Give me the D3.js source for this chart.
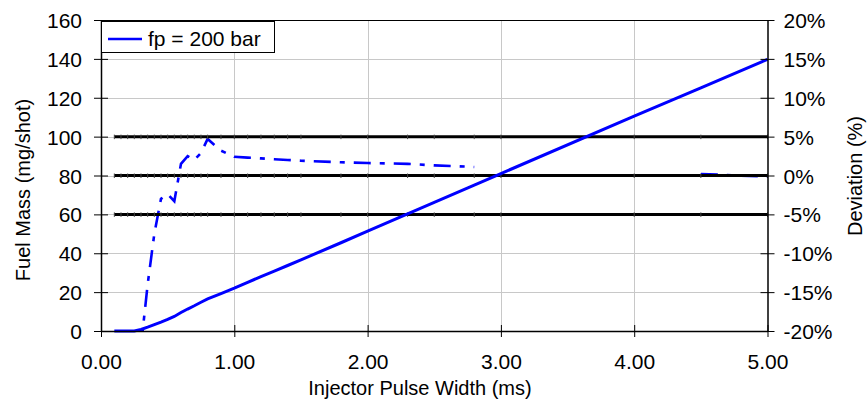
<!DOCTYPE html>
<html>
<head>
<meta charset="utf-8">
<script src="https://cdn.jsdelivr.net/npm/d3@7"></script>
<style>
  html, body { margin: 0; padding: 0; background: #fff; }
  svg { display: block; font-family: 'Liberation Sans', Arial, sans-serif; }
</style>
</head>
<body>
<div id="chart"></div>
<script>
(function () {

  // Pulse widths (ms) where the injector was measured
  const pulse_width = [0.1, 0.15, 0.2, 0.25, 0.3, 0.35, 0.4, 0.45, 0.5, 0.55, 0.6, 0.65, 0.7, 0.75, 0.8, 0.9,
    1.0, 1.1, 1.2, 1.3, 1.4, 1.5, 1.8, 2.0, 2.3, 2.5, 2.8, 3.0, 4.0, 4.5, 5.0]

  // Fuel mass (mg/shot), left axis
  const fuel_mass = [0, 0, 0, 0, 0.8, 2.0, 3.3, 4.6, 6.0, 7.5, 9.5, 11.3, 13.0, 14.8, 16.5, 19.2,
    22.0, 25.0, 28.0, 30.8, 33.7, 36.6, 45.4, 51.4, 60.3, 66.2, 75.0, 81.0, 110.5, 125.1, 139.8]

  // Deviation (%), right axis (null = not visible in the chart)
  const deviation = [null, null, null, null, -22, -14, -7.5, -3.0, -2.4, -3.3, 1.5, 2.5, 2.0, 2.9, 4.7, 3.2,
    2.4, 2.3, 2.2, 2.1, 2.0, 1.9, 1.7, 1.6, 1.5, 1.3, 1.1, null, null, 0.2, -0.15]

  // Reference lines (%)
  const ref_levels = [5, 0, -5]

  const x_ticks = [0, 1, 2, 3, 4, 5]
  const y_ticks = [0, 20, 40, 60, 80, 100, 120, 140, 160]
  const dev_ticks = [-20, -15, -10, -5, 0, 5, 10, 15, 20]
  const series_name = 'fp = 200 bar'

  const width = 867
  const height = 402
  const margin = { top: 20, right: 100, bottom: 71, left: 101 }
  const blue = '#0000ff'
  const font_size = 21

  const svg = d3.select('#chart').append('svg')
    .attr('width', width)
    .attr('height', height)

  const x = d3.scaleLinear().domain([0, 5]).range([margin.left, width - margin.right + 0.5])
  const y = d3.scaleLinear().domain([0, 160]).range([height - margin.bottom, margin.top])
  const y_dev = d3.scaleLinear().domain([-20, 20]).range([height - margin.bottom, margin.top])

  const x0 = x.range()[0], x1 = x.range()[1]
  const yb = y.range()[0], yt = y.range()[1]

  svg.append('clipPath').attr('id', 'plot-clip')
    .append('rect')
    .attr('x', x0).attr('y', yt)
    .attr('width', x1 - x0).attr('height', yb - yt)

  // Gridlines
  const grid = svg.append('g').attr('stroke', '#c8c8c8').attr('stroke-width', 1)
  grid.selectAll('.gx')
    .data(x_ticks.slice(1, -1))
    .join('line')
    .attr('x1', d => Math.round(x(d)) + 0.5).attr('x2', d => Math.round(x(d)) + 0.5)
    .attr('y1', yt).attr('y2', yb)
  grid.selectAll('.gy')
    .data(y_ticks.slice(1, -1))
    .join('line')
    .attr('x1', x0).attr('x2', x1)
    .attr('y1', d => Math.round(y(d)) + 0.5).attr('y2', d => Math.round(y(d)) + 0.5)

  // Top border
  svg.append('line')
    .attr('x1', x0).attr('x2', x1)
    .attr('y1', yt + 0.5).attr('y2', yt + 0.5)
    .attr('stroke', '#000')

  const points = pulse_width.map((p, i) => ({ p, m: fuel_mass[i], d: deviation[i] }))

  // Deviation line (dash-dot)
  const dev_line = d3.line()
    .defined(d => d.d !== null)
    .x(d => x(d.p))
    .y(d => y_dev(d.d))

  svg.append('path')
    .datum(points)
    .attr('clip-path', 'url(#plot-clip)')
    .attr('d', dev_line)
    .attr('fill', 'none')
    .attr('stroke', blue)
    .attr('stroke-width', 2.6)
    .attr('stroke-dasharray', '17,9,5,9')

  // Reference lines with small markers at each measured point
  const refs = svg.append('g')
  ref_levels.forEach(level => {
    const yy = y_dev(level)
    refs.append('line')
      .attr('x1', x(pulse_width[0])).attr('x2', x1)
      .attr('y1', yy).attr('y2', yy)
      .attr('stroke', '#000')
      .attr('stroke-width', 3)
    refs.selectAll(null)
      .data(pulse_width)
      .join('line')
      .attr('x1', d => x(d)).attr('x2', d => x(d))
      .attr('y1', yy - 2).attr('y2', yy + 2.5)
      .attr('stroke', '#444')
      .attr('stroke-width', 1)
  })

  // Fuel mass line
  const mass_line = d3.line()
    .x(d => x(d.p))
    .y(d => y(d.m))

  svg.append('path')
    .datum(points)
    .attr('d', mass_line)
    .attr('fill', 'none')
    .attr('stroke', blue)
    .attr('stroke-width', 3)

  // Axes
  const x_axis = svg.append('g')
    .attr('transform', `translate(0,${yb})`)
    .call(d3.axisBottom(x).tickValues(x_ticks).tickFormat(d3.format('.2f')).tickSize(6).tickSizeOuter(0))
  x_axis.select('.domain').attr('stroke-width', 1.5)
  x_axis.selectAll('.tick line').attr('y1', -6)
  x_axis.selectAll('text').attr('font-size', font_size).attr('fill', '#000').attr('dy', null).attr('y', 38)

  const y_axis = svg.append('g')
    .attr('transform', `translate(${x0},0)`)
    .call(d3.axisLeft(y).tickValues(y_ticks).tickSize(7).tickSizeOuter(0))
  y_axis.select('.domain').attr('stroke-width', 1.5)
  y_axis.selectAll('.tick line').attr('x1', 7)
  y_axis.selectAll('text').attr('font-size', font_size).attr('fill', '#000').attr('x', -19).attr('dy', '0.36em')

  const y_axis_r = svg.append('g')
    .attr('transform', `translate(${x1},0)`)
    .call(d3.axisRight(y_dev).tickValues(dev_ticks).tickFormat(d => d + '%').tickSize(7).tickSizeOuter(0))
  y_axis_r.select('.domain').attr('stroke-width', 1.5)
  y_axis_r.selectAll('.tick line').attr('x1', -7)
  y_axis_r.selectAll('text').attr('font-size', font_size).attr('fill', '#000').attr('x', 16).attr('dy', '0.36em')

  // Axis titles
  svg.append('text')
    .attr('x', 420).attr('y', 395)
    .attr('text-anchor', 'middle')
    .attr('font-size', 20)
    .text('Injector Pulse Width (ms)')

  svg.append('text')
    .attr('transform', 'translate(30,190) rotate(-90)')
    .attr('text-anchor', 'middle')
    .attr('font-size', 20)
    .text('Fuel Mass (mg/shot)')

  svg.append('text')
    .attr('transform', 'translate(862,176) rotate(-90)')
    .attr('text-anchor', 'middle')
    .attr('font-size', 20)
    .text('Deviation (%)')

  // Legend
  const legend = svg.append('g')
  legend.append('rect')
    .attr('x', 101.5).attr('y', 21.5)
    .attr('width', 173).attr('height', 31)
    .attr('fill', '#fff')
    .attr('stroke', '#000')
  legend.append('line')
    .attr('x1', 108).attr('x2', 142)
    .attr('y1', 39).attr('y2', 39)
    .attr('stroke', blue)
    .attr('stroke-width', 2.5)
  legend.append('text')
    .attr('x', 148).attr('y', 46)
    .attr('font-size', font_size)
    .text(series_name)
})()
</script>
</body>
</html>
